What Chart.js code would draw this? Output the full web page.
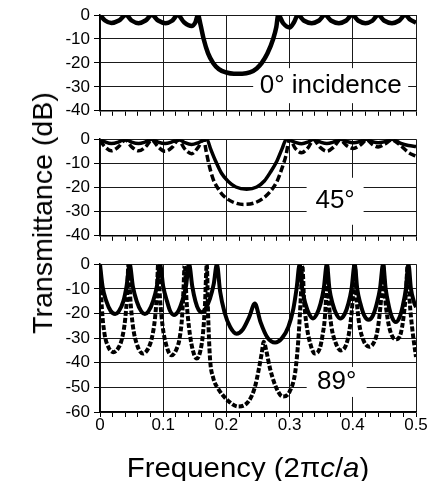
<!DOCTYPE html>
<html>

<head>
    <title>Transmittance vs frequency</title>
    <script src="https://cdn.jsdelivr.net/npm/chart.js"></script>
    <style>
        body {
            margin: 0;
            background: #fff;
            font-family: Arial, 'Liberation Sans', sans-serif;
        }

        #wrap {
            position: relative;
            width: 430px;
            height: 481px;
            overflow: hidden;
        }

        canvas {
            position: absolute;
            left: 0;
        }

        .axis-title {
            position: absolute;
            font-size: 28px;
            line-height: 1;
            white-space: nowrap;
            color: #000;
        }

        #ytitle {
            left: 43px;
            top: 213px;
            transform: translate(-50%, -50%) rotate(-90deg) scaleX(1.02);
        }

        #xtitle {
            left: 248px;
            top: 454px;
            transform: translateX(-50%) scaleX(1.05);
        }
    </style>
</head>

<body>
    <div id="wrap">
        <canvas id="p0" width="430" height="125" style="top:0"></canvas>
        <canvas id="p45" width="430" height="125" style="top:125px"></canvas>
        <canvas id="p89" width="430" height="231" style="top:250px"></canvas>
        <div class="axis-title" id="ytitle">Transmittance (dB)</div>
        <div class="axis-title" id="xtitle">Frequency (2π<i>c</i>/<i>a</i>)</div>
    </div>

    <script>
        // 0 deg incidence
        const freq0 = [0, 0.008, 0.018, 0.030, 0.041, 0.050, 0.061, 0.072, 0.082,
            0.092, 0.104, 0.114, 0.123, 0.133, 0.145, 0.151, 0.155,
            0.159, 0.164, 0.171, 0.179, 0.188, 0.200, 0.212, 0.225, 0.237, 0.248,
            0.256, 0.265, 0.274, 0.279, 0.282, 0.290, 0.300, 0.307, 0.313,
            0.323, 0.335, 0.346, 0.356, 0.366, 0.378, 0.389, 0.399,
            0.409, 0.420, 0.431, 0.440, 0.450, 0.462, 0.473, 0.483, 0.491, 0.500];
        const db0 = [0, -2.3, -3.3, -2.3, 0, -2.3, -3.4, -2.3, 0,
            -2.3, -3.4, -2.4, 0, -3, -4.6, -3, 0,
            -4, -10, -16, -20, -22.6, -24, -24.5, -24.5, -24, -22.3,
            -20, -16, -10, -5, 0, -3.5, -5.2, -3, 0,
            -2.4, -3.4, -2.4, 0, -2.4, -3.4, -2.4, 0,
            -2.4, -3.4, -2.4, 0, -2.4, -3.4, -2.4, 0, -2, -3.2];

        // 45 deg, solid
        const freq45a = [0, 0.009, 0.018, 0.029, 0.040, 0.050, 0.061, 0.071, 0.082,
            0.092, 0.103, 0.113, 0.124, 0.134, 0.145, 0.156, 0.169,
            0.175, 0.182, 0.192, 0.203, 0.215, 0.232, 0.248, 0.260, 0.270, 0.280, 0.288, 0.295,
            0.308, 0.319, 0.329, 0.338, 0.349, 0.359, 0.369, 0.380,
            0.391, 0.401, 0.411, 0.422, 0.431, 0.440, 0.451, 0.462, 0.475, 0.488, 0.500];
        const db45a = [0, -1.2, -1.8, -1.2, 0, -1.2, -1.8, -1.2, 0,
            -1.2, -1.8, -1.2, 0, -1.4, -2.2, -1.4, 0,
            -4, -8.5, -14, -17.5, -19.8, -20.7, -19.8, -17.3, -13.5, -9, -4, 0,
            -1.2, -1.9, -1.2, 0, -1.2, -1.8, -1.2, 0,
            -1, -1.5, -1, 0, -1, -1.5, -1, 0, -1.6, -2.6, -3];

        // 45 deg, dashed
        const freq45b = [0, 0.008, 0.018, 0.029, 0.040, 0.050, 0.061, 0.072, 0.082,
            0.092, 0.103, 0.114, 0.124, 0.134, 0.145, 0.155, 0.164,
            0.168, 0.172, 0.179, 0.187, 0.195, 0.210, 0.227, 0.243, 0.258, 0.270,
            0.280, 0.288, 0.294, 0.300, 0.309, 0.319, 0.329, 0.338,
            0.348, 0.359, 0.370, 0.380, 0.390, 0.401, 0.412, 0.422,
            0.431, 0.440, 0.451, 0.462, 0.475, 0.488, 0.500];
        const db45b = [-0.5, -3.2, -4.8, -3.2, -0.3, -3.2, -4.8, -3.2, -0.3,
            -3.2, -5, -3.4, -0.3, -4, -6, -3.5, 0,
            -5, -10, -16.5, -20.5, -23.3, -26, -27, -26.5, -24.5, -21.5,
            -17.5, -12, -7, 0, -3.8, -5.6, -3.6, -0.3,
            -3.3, -5, -3.2, -0.3, -2.6, -3.8, -2.4, -0.3,
            -2.2, -3.2, -2, -0.3, -2.5, -5.5, -7];

        // 89 deg, solid
        const freq89a = [0, 0.004, 0.010, 0.017, 0.024, 0.030, 0.037, 0.042,
            0.047, 0.052, 0.058, 0.065, 0.071, 0.077, 0.084, 0.090,
            0.095, 0.100, 0.106, 0.111, 0.117, 0.124, 0.130, 0.136,
            0.141, 0.146, 0.151, 0.156, 0.161, 0.167, 0.174, 0.180,
            0.185, 0.190, 0.197, 0.206, 0.216, 0.226, 0.236, 0.245,
            0.254, 0.265, 0.277, 0.288, 0.298, 0.306, 0.311, 0.316,
            0.320, 0.325, 0.331, 0.337, 0.343, 0.349, 0.354, 0.359,
            0.363, 0.368, 0.374, 0.380, 0.387, 0.393, 0.398, 0.403,
            0.407, 0.412, 0.418, 0.425, 0.432, 0.438, 0.443, 0.448,
            0.452, 0.457, 0.462, 0.468, 0.474, 0.479, 0.484, 0.488,
            0.492, 0.497, 0.500];
        const db89a = [0, -9, -15, -19, -20.2, -19, -15, -9,
            0, -9, -15, -19, -20.2, -19, -15, -9,
            0, -9, -15, -19, -20.6, -19, -15, -9,
            0, -9, -15, -18.5, -19.5, -18, -14, -8,
            0, -11, -19.5, -25.5, -28.2, -26.5, -21.5, -16,
            -23.5, -29.8, -31.8, -30, -25.5, -18, -10, 0,
            -10, -16, -20.3, -22, -20.3, -16, -10, 0,
            -10, -16, -20.3, -22, -20.3, -16, -10, 0,
            -10, -16, -20.8, -22.6, -20.8, -16, -10, 0,
            -10, -17, -21.5, -23.5, -21.5, -17, -10, 0,
            -10, -15.5, -17.5];

        // 89 deg, dashed
        const freq89b = [0, 0.003, 0.007, 0.013, 0.021, 0.029, 0.035, 0.040,
            0.043, 0.045, 0.048, 0.052, 0.059, 0.068, 0.076, 0.082,
            0.087, 0.090, 0.092, 0.095, 0.099, 0.105, 0.113, 0.121,
            0.126, 0.130, 0.132, 0.134, 0.137, 0.141, 0.146, 0.153,
            0.159, 0.163, 0.166, 0.169, 0.171, 0.174, 0.179, 0.187,
            0.203, 0.219, 0.235, 0.245, 0.251, 0.256, 0.259, 0.263,
            0.269, 0.277, 0.289, 0.300, 0.309, 0.314, 0.318, 0.320,
            0.323, 0.327, 0.333, 0.340, 0.348, 0.352, 0.356, 0.358,
            0.359, 0.362, 0.366, 0.373, 0.381, 0.389, 0.394, 0.398,
            0.401, 0.403, 0.406, 0.410, 0.417, 0.426, 0.434, 0.439,
            0.443, 0.446, 0.448, 0.451, 0.455, 0.461, 0.469, 0.476,
            0.480, 0.484, 0.487, 0.490, 0.494, 0.500];
        const db89b = [-2, -18, -28, -33.5, -35.7, -34, -30, -22,
            -12, 0, -14, -25, -33, -36.3, -34.3, -30,
            -22, -12, 0, -14, -25, -33, -37, -34.5,
            -30, -21, -11, 0, -15, -26, -34, -38.3,
            -35, -28, -17, 0, -20, -38, -46, -50.5,
            -55.5, -57.8, -55.7, -50, -43, -36, -31.5, -35,
            -42.3, -49, -53.7, -51.7, -43.6, -30, -12, 0,
            -15, -25, -32.5, -36.3, -34, -29, -21, -11,
            0, -15, -25, -32, -35, -33, -28, -20,
            -10, 0, -14, -24, -31, -33.5, -31.5, -27,
            -19, -10, 0, -13, -22, -28.5, -30.5, -28,
            -22, -12, 0, -15, -26, -37.7];

        const FONT = "Arial, 'Liberation Sans', sans-serif";
        Chart.defaults.font.family = FONT;
        Chart.defaults.color = '#000';

        const isMajor = v => Math.abs(v * 10 - Math.round(v * 10)) < 1e-6;

        // white-boxed caption placed at a data position, under the curves
        const bandLabel = {
            id: 'bandLabel',
            beforeDatasetsDraw(chart, args, opts) {
                if (!opts.text) return;
                const { ctx, scales: { x, y } } = chart;
                const cx = x.getPixelForValue(opts.x);
                const cy = y.getPixelForValue(opts.y);
                ctx.save();
                ctx.fillStyle = '#fff';
                ctx.fillRect(cx - opts.w / 2, cy - opts.h / 2, opts.w, opts.h);
                ctx.fillStyle = '#000';
                ctx.font = '26px ' + FONT;
                ctx.textAlign = 'center';
                ctx.textBaseline = 'middle';
                ctx.fillText(opts.text, cx, cy);
                ctx.restore();
            }
        };

        function line(f, db, width, dash) {
            return {
                data: f.map((v, i) => ({ x: v, y: db[i] })),
                borderColor: '#000',
                borderWidth: width,
                borderDash: dash || [],
                borderJoinStyle: 'round',
                pointRadius: 0,
                cubicInterpolationMode: 'monotone',
                fill: false
            };
        }

        function panel(id, datasets, yMin, label, padTop, padBottom, last) {
            return new Chart(document.getElementById(id), {
                type: 'line',
                data: { datasets: datasets },
                options: {
                    responsive: false,
                    animation: false,
                    devicePixelRatio: 1,
                    layout: { padding: { top: padTop, bottom: padBottom, left: 0, right: 14 } },
                    plugins: {
                        legend: { display: false },
                        tooltip: { enabled: false },
                        bandLabel: label
                    },
                    scales: {
                        x: {
                            type: 'linear',
                            min: 0,
                            max: 0.5,
                            ticks: {
                                stepSize: 0.02,
                                display: last,
                                autoSkip: false,
                                maxRotation: 0,
                                padding: -2,
                                font: { size: 17 },
                                callback: v => isMajor(v) ? String(Math.round(v * 10) / 10) : ''
                            },
                            grid: {
                                color: c => c.tick && isMajor(c.tick.value) ? '#1a1a1a' : 'rgba(0,0,0,0)',
                                tickColor: '#000',
                                tickLength: 5,
                                lineWidth: 1
                            },
                            border: { color: '#000', width: 1.5 },
                            afterFit: s => { s.height = last ? 30 : 6; }
                        },
                        y: {
                            min: yMin,
                            max: 0,
                            ticks: { stepSize: 10, padding: 4, font: { size: 17 } },
                            grid: { color: '#1a1a1a', tickColor: '#000', tickLength: 6, lineWidth: 1 },
                            border: { color: '#000', width: 1.5 },
                            afterFit: s => { s.width = 100; }
                        }
                    }
                },
                plugins: [bandLabel]
            });
        }

        panel('p0', [line(freq0, db0, 4.5)], -40,
            { text: '0\u00b0 incidence', x: 0.365, y: -29.5, w: 155, h: 35 }, 15, 3, false);

        panel('p45', [line(freq45a, db45a, 3.5), line(freq45b, db45b, 3.5, [7, 3])], -40,
            { text: '45\u00b0', x: 0.372, y: -25.7, w: 57, h: 47 }, 14, 4, false);

        panel('p89', [line(freq89a, db89a, 4), line(freq89b, db89b, 4, [5, 2])], -60,
            { text: '89\u00b0', x: 0.3745, y: -47.8, w: 60, h: 30 }, 13, 39, true);
    </script>
</body>

</html>
